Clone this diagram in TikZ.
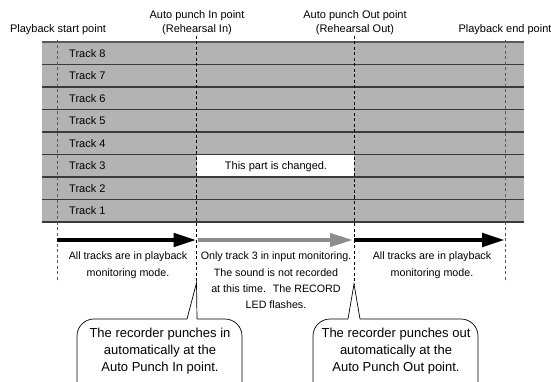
\documentclass[tikz,border=0pt]{standalone}
\usepackage{fontspec}
\setmainfont{Liberation Sans}
\usepackage{xcolor}
\usepackage{tikz}
\usetikzlibrary{arrows.meta,positioning}
\definecolor{trackG}{HTML}{B3B3B3}
\definecolor{lineD}{HTML}{3A3A3A}
\definecolor{markG}{HTML}{5A5A5A}
\definecolor{arrowG}{HTML}{8C8C8C}

\begin{document}
\begin{tikzpicture}[x=1pt, y=-1pt,
  tracklbl/.style={font=\fontsize{11}{13}\selectfont, inner sep=0pt, text height=8pt, text depth=0pt},
  toplbl/.style={font=\fontsize{11}{14}\selectfont, align=center, inner sep=0pt, anchor=north},
  notetxt/.style={font=\fontsize{10.7}{16.3}\selectfont, align=center, inner sep=0pt, anchor=north},
  callouttxt/.style={font=\fontsize{13}{16.8}\selectfont, align=center, inner sep=0pt, anchor=north},
  markline/.style={line width=0.8pt, dash pattern=on 3pt off 2.5pt},
  fatarrow/.style={line width=4.6pt, -{Triangle[length=23pt,width=13pt]}},
  bubble/.style={line width=0.7pt, rounded corners=17pt}]
\useasboundingbox (0,0) rectangle (551,382);
% track rows
\foreach \n in {1,...,8} {
  \pgfmathsetmacro\ytop{42+(8-\n)*22.5}
  \fill[trackG] (42,\ytop) rectangle (524,{\ytop+22.5});
  \node[tracklbl, anchor=west] (track\n) at (69,{\ytop+11.25}) {Track \n};
}
\fill[white] (197,154.5) rectangle (354,177);
\node[tracklbl] (changed) at (276,165.75) {This part is changed.};
\draw[markG, line width=1.6pt] (42,42) -- (524,42);
\foreach \k in {1,...,8}
  \draw[lineD, line width=1.1pt] (42,{42+\k*22.5}) -- (524,{42+\k*22.5});

% marker lines
\coordinate (startT) at (57,40);   \coordinate (startB) at (57,282);
\coordinate (inT) at (196.5,36);   \coordinate (inTip) at (196.5,283);
\coordinate (outT) at (354,36);    \coordinate (outTip) at (354,284);
\coordinate (endT) at (505,40);    \coordinate (endB) at (505,282);
\draw[markline, markG] (startT) -- (startB);
\draw[markline] (inT) -- (inTip);
\draw[markline] (outT) -- (outTip);
\draw[markline, markG] (endT) -- (endB);

\node[toplbl] (startlbl) at (58,24) {Playback start point};
\node[toplbl] (inlbl) at (197,10) {Auto punch In point\\(Rehearsal In)};
\node[toplbl] (outlbl) at (355,10) {Auto punch Out point\\(Rehearsal Out)};
\node[toplbl] (endlbl) at (505,24) {Playback end point};

% arrows
\coordinate (pbs) at (57,240);
\coordinate (pin) at (196.5,240);
\coordinate (pout) at (354,240);
\coordinate (pbe) at (505,240);
\draw[fatarrow] (pbs) -- (pin);
\draw[fatarrow, arrowG, line width=4pt, shorten <=1pt, shorten >=1pt] (pin) -- (pout);
\draw[fatarrow] (pout) -- (pbe);

\node[notetxt] (leftnote) at (128,252) {All tracks are in playback\\monitoring mode.};
\node[notetxt] (midnote) at (276,252) {Only track 3 in input monitoring.\\The sound is not recorded\\at this time.~ The RECORD\\LED flashes.};
\node[notetxt] (rightnote) at (432,252) {All tracks are in playback\\monitoring mode.};

% callouts
\coordinate (inBL) at (187,319);  \coordinate (inBR) at (197,319);
\draw[bubble] (inBL) -- (77,319) -- (77,420) -- (242,420) -- (242,319) -- (inBR);
\draw[line width=0.7pt] (inBL) -- (inTip) -- (inBR);
\node[callouttxt] (inmsg) at (160,328) {The recorder punches in\\automatically at the\\Auto Punch In point.};

\coordinate (outBL) at (348,319);  \coordinate (outBR) at (360,319);
\draw[bubble] (outBL) -- (313,319) -- (313,420) -- (478,420) -- (478,319) -- (outBR);
\draw[line width=0.7pt] (outBL) -- (outTip) -- (outBR);
\node[callouttxt] (outmsg) at (396,328) {The recorder punches out\\automatically at the\\Auto Punch Out point.};
\end{tikzpicture}
\end{document}
